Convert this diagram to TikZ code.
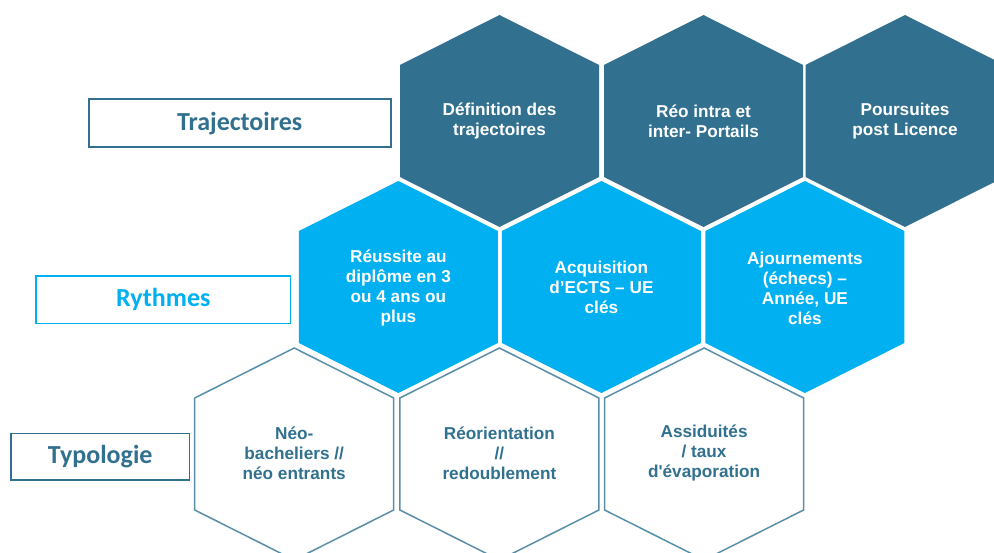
\documentclass[tikz,border=0pt]{standalone}
\usepackage{fontspec}
\setmainfont{Liberation Sans}
\newfontfamily\nolig{Liberation Sans}
\newfontfamily\calib{Carlito}
\definecolor{darkb}{HTML}{31718F}
\definecolor{lightb}{HTML}{00B0F0}
\definecolor{outl}{HTML}{5A8FAA}
\tikzset{
  hexfill/.style={fill=#1, draw=none},
  hexline/.style={draw=outl, line width=1.5pt, fill=white},
  hextext/.style={align=center, font=\fontsize{17.2}{20}\selectfont\bfseries, text=#1, inner sep=0pt},
  labelbox/.style={draw=#1, line width=1.6pt, text=#1, font=\calib\fontsize{26}{28}\selectfont\bfseries, inner sep=0pt},
}
\newcommand{\hexpath}[3]{%
  \path[#3] (#1,#2-106) -- (#1+99.5,#2-56) -- (#1+99.5,#2+56) -- (#1,#2+106) -- (#1-99.5,#2+56) -- (#1-99.5,#2-56) -- cycle;}
\begin{document}
\begin{tikzpicture}[x=1pt,y=-1pt]
\useasboundingbox (0,0) rectangle (994,553);
\clip (0,0) rectangle (994,553);
\fill[white] (0,0) rectangle (994,553);
% top row
\hexpath{499.5}{121}{hexfill=darkb}
\hexpath{703.5}{121}{hexfill=darkb}
\hexpath{905}{121}{hexfill=darkb}
% middle row
\hexpath{398.4}{287}{hexfill=lightb}
\hexpath{601.4}{287}{hexfill=lightb}
\hexpath{804.9}{287}{hexfill=lightb}
% bottom row
\hexpath{294.2}{454}{hexline}
\hexpath{499.4}{454}{hexline}
\hexpath{704.1}{454}{hexline}
% texts
\node[hextext=white] (t1) at (499.5,121) {Définition des\\trajectoires};
\node[hextext=white] (t2) at (703.5,121) {Réo intra et\\inter- Portails};
\node[hextext=white] (t3) at (905,121) {Poursuites\\post Licence};
\node[hextext=white] (m1) at (398.4,288) {Réussite au\\diplôme en 3\\ou 4 ans ou\\plus};
\node[hextext=white] (m2) at (601.4,287) {Acquisition\\d’ECTS – UE\\clés};
\node[hextext=white] (m3) at (804.9,288) {Ajournements\\(échecs) –\\Année, UE\\clés};
\node[hextext=darkb] (b1) at (294.2,453) {Néo-\\bacheliers //\\néo entrants};
\node[hextext=darkb] (b2) at (499.4,453) {Réorientation\\//\\redoublement};
\node[hextext=darkb] (b3) at (704.1,453) {Assiduités\\/ taux\\{\nolig\bfseries d'évaporation}};
% labels
\node[labelbox=darkb, minimum width=302pt, minimum height=48pt] (traj) at (239.7,123.3) {Trajectoires};
\node[labelbox=lightb, minimum width=254.7pt, minimum height=47.3pt] (ryth) at (163.3,299.7) {Rythmes};
\node[labelbox=darkb, minimum width=178.3pt, minimum height=46.7pt] (typo) at (100.2,456.7) {Typologie};
\end{tikzpicture}
\end{document}
